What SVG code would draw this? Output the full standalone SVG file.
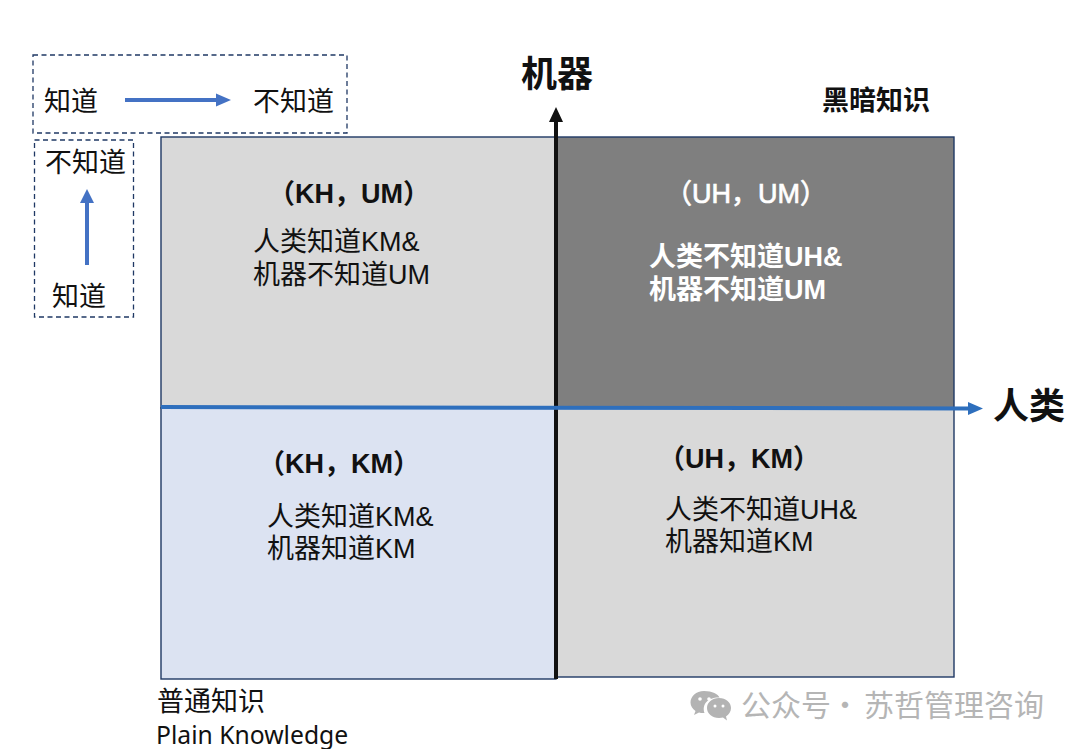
<svg xmlns="http://www.w3.org/2000/svg" width="1080" height="749" viewBox="0 0 1080 749">
<style>
text{font-family:"Liberation Sans","Noto Sans CJK SC",sans-serif;fill:#111}
.cjk{font-family:"Noto Sans CJK SC",sans-serif}
.t{font-size:27px}
.b{font-size:27px;font-weight:700}
.w{fill:#fff}
.m{font-size:27px;fill:#fff;stroke:#fff;stroke-width:.7}
.q{stroke:#1f3864;stroke-width:1.4}
.dash{fill:none;stroke:#1f3864;stroke-width:1.3;stroke-dasharray:5 3.5}
.wm{fill:#b5b5b5;font-size:30px}
</style>
<rect width="1080" height="749" fill="#fff"/>
<g id="legend-h"><rect class="dash" x="33" y="55" width="314" height="78"/>
<text class="t cjk" x="44" y="111">知道</text><text class="t cjk" x="253" y="111">不知道</text></g>
<g id="legend-v"><rect class="dash" x="34.500" y="140" width="99" height="177"/>
<text class="t cjk" x="45" y="172">不知道</text><text class="t cjk" x="52" y="306">知道</text></g>
<g id="q-kh-um"><rect class="q" x="161" y="137" width="395" height="271" fill="#d9d9d9"/>
<text class="b" x="268" y="203">（KH，UM）</text>
<text class="t" x="253" y="251">人类知道KM&amp;</text><text class="t" x="253" y="284">机器不知道UM</text></g>
<g id="q-uh-um"><rect class="q" x="556" y="137" width="398" height="271" fill="#7f7f7f"/>
<text class="m" x="665" y="203">（UH，UM）</text>
<text class="b w" x="649" y="266">人类不知道UH&amp;</text><text class="b w" x="649" y="299">机器不知道UM</text></g>
<g id="q-kh-km"><rect class="q" x="161" y="408" width="395" height="271" fill="#dce3f2"/>
<text class="b" x="258" y="473">（KH，KM）</text>
<text class="t" x="267" y="526">人类知道KM&amp;</text><text class="t" x="267" y="558">机器知道KM</text></g>
<g id="q-uh-km"><rect class="q" x="556" y="408" width="398" height="269" fill="#d9d9d9"/>
<text class="b" x="658" y="468">（UH，KM）</text>
<text class="t" x="665" y="519">人类不知道UH&amp;</text><text class="t" x="665" y="551">机器知道KM</text></g>
<g id="connectors">
<path d="M125 100H216" stroke="#4472c4" stroke-width="4"/><path d="M216 93.500 231 100 216 106.500Z" fill="#4472c4"/>
<path d="M87 265V203" stroke="#4472c4" stroke-width="4"/><path d="M80 203 87 189 94 203Z" fill="#4472c4"/>
<path d="M556 679V122" stroke="#111" stroke-width="4"/><path d="M549 122 556 107 563 122Z" fill="#111"/>
<path d="M161 407 968 408.500" stroke="#2e6fbd" stroke-width="4"/><path d="M968 402 983 408.500 968 415Z" fill="#2e6fbd"/>
</g>
<g id="labels">
<text class="cjk" x="521" y="87" font-size="36" font-weight="700">机器</text>
<text class="cjk" x="993" y="419" font-size="36" font-weight="700">人类</text>
<text class="cjk" x="822" y="110" font-size="27" font-weight="700">黑暗知识</text>
<text class="cjk" x="157" y="711" font-size="27">普通知识</text>
<text x="156" y="744" font-size="24.700" style="font-family:'Noto Sans',sans-serif">Plain Knowledge</text>
</g>
<g id="watermark">
<path d="M704 691c-8 0-13.500 5.500-13.500 11.500 0 3.500 2 6.500 5 8.500l-1.500 4 5-2.500c2 .5 3.500 .7 5.500 .5-3-9 4-16 15-15.500-1.500-3.500-7-6.500-15.500-6.500z" fill="#b3b3b3"/>
<path d="M719 698c-7 0-12 4.500-12 10s5 10 12 10c1.500 0 3-.2 4-.5l4 3-1-4c3-2 5-5 5-8.500 0-5.500-5-10-12-10z" fill="#b3b3b3"/>
<circle cx="700" cy="699" r="1.800" fill="#fff"/><circle cx="709" cy="699" r="1.800" fill="#fff"/>
<circle cx="715" cy="706" r="1.500" fill="#fff"/><circle cx="723" cy="706" r="1.500" fill="#fff"/>
<text class="cjk wm" x="741" y="716">公众号</text><text class="cjk wm" x="830" y="716">·</text><text class="cjk wm" x="864" y="716">苏哲管理咨询</text>
</g>
</svg>
